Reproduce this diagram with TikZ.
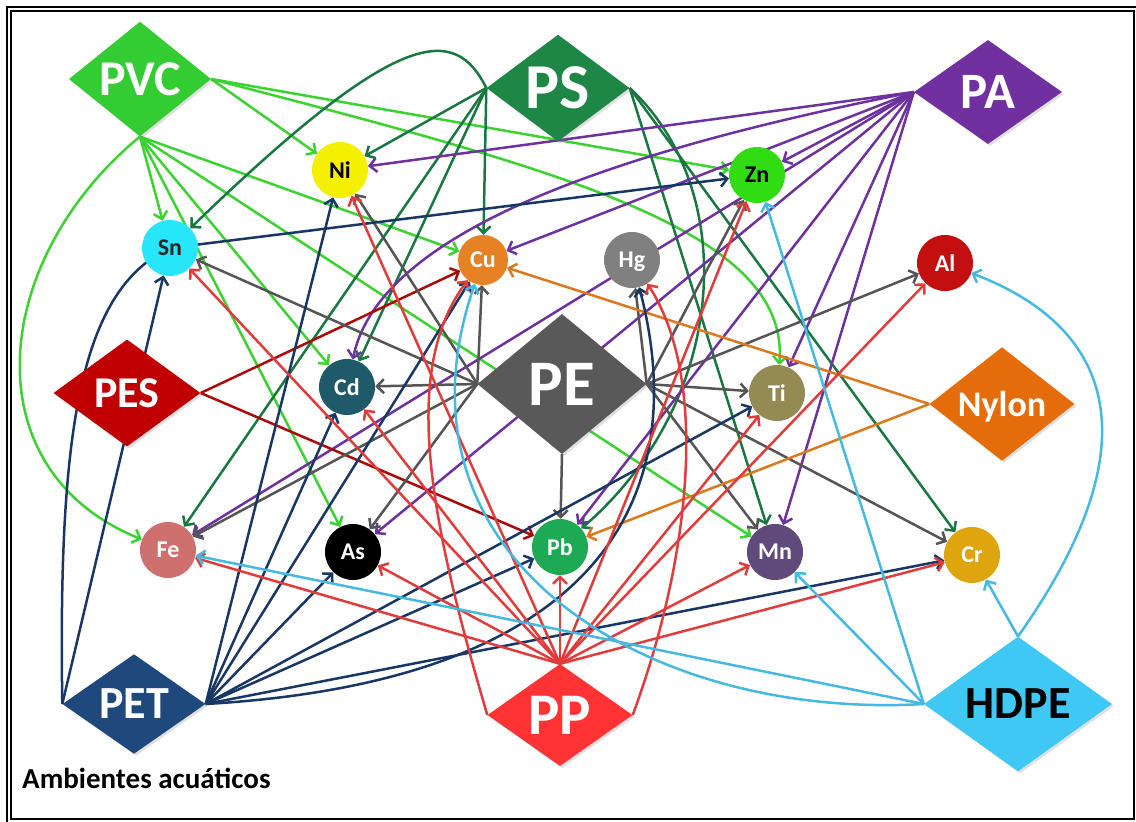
\documentclass[tikz,border=0pt]{standalone}
\usepackage{fontspec}
\setmainfont{Carlito}
\usetikzlibrary{shapes.geometric,arrows.meta,shadows}
\definecolor{fPVC}{RGB}{51,204,51}
\definecolor{fPS}{RGB}{30,135,70}
\definecolor{fPA}{RGB}{112,48,160}
\definecolor{fPES}{RGB}{192,0,0}
\definecolor{fPE}{RGB}{89,89,89}
\definecolor{fNy}{RGB}{228,108,10}
\definecolor{fPET}{RGB}{31,73,125}
\definecolor{fPP}{RGB}{255,51,51}
\definecolor{fHD}{RGB}{64,200,245}
\definecolor{lPVC}{RGB}{60,210,50}
\definecolor{lPS}{RGB}{25,120,65}
\definecolor{lPA}{RGB}{110,50,160}
\definecolor{lPES}{RGB}{170,10,10}
\definecolor{lPE}{RGB}{85,85,85}
\definecolor{lNy}{RGB}{220,120,30}
\definecolor{lPET}{RGB}{25,55,100}
\definecolor{lPP}{RGB}{225,60,60}
\definecolor{lHD}{RGB}{70,185,225}
\definecolor{cNi}{RGB}{245,240,0}
\definecolor{cZn}{RGB}{50,220,20}
\definecolor{cSn}{RGB}{40,230,250}
\definecolor{cCu}{RGB}{230,130,35}
\definecolor{cHg}{RGB}{128,128,128}
\definecolor{cAl}{RGB}{195,15,15}
\definecolor{cCd}{RGB}{30,90,105}
\definecolor{cTi}{RGB}{148,138,84}
\definecolor{cFe}{RGB}{205,112,110}
\definecolor{cAs}{RGB}{0,0,0}
\definecolor{cPb}{RGB}{30,170,85}
\definecolor{cMn}{RGB}{96,74,123}
\definecolor{cCr}{RGB}{222,165,15}
\pgfdeclarelayer{bg}
\pgfsetlayers{bg,main}
\begin{document}
\begin{tikzpicture}[x=1pt,y=-1pt,
  dia/.style={diamond, inner sep=0pt, text=white,
    drop shadow={shadow xshift=2pt,shadow yshift=-2pt,opacity=.25}},
  el/.style={circle, inner sep=0pt, minimum size=56pt, text=white, text depth=0pt,
    font=\fontsize{24}{24}\selectfont\bfseries},
  e/.style={line width=2.5pt, -{Straight Barb[length=7pt,width=14pt]}},
  ePVC/.style={e, draw=lPVC}, ePS/.style={e, draw=lPS}, ePA/.style={e, draw=lPA},
  ePES/.style={e, draw=lPES}, ePE/.style={e, draw=lPE}, eNy/.style={e, draw=lNy},
  ePET/.style={e, draw=lPET}, ePP/.style={e, draw=lPP}, eHD/.style={e, draw=lHD}]
\useasboundingbox (0,0) rectangle (1136,822);
\begin{pgfonlayer}{bg}
\fill[white] (0,0) rectangle (1136,822);
\end{pgfonlayer}
% frame
\draw[line width=2.2pt] (1136,7) -- (7,7) -- (7,822);
\draw[line width=1.3pt] (11,11) rectangle (1134,819);
% polymers
\node[dia, fill=fPVC, minimum width=142pt, minimum height=102pt, font=\fontsize{50}{50}\selectfont\bfseries] (PVC) at (140,79) {PVC};
\node[dia, fill=fPS, minimum width=143pt, minimum height=99pt, font=\fontsize{64}{64}\selectfont\bfseries] (PS) at (558,88) {PS};
\node[dia, fill=fPA, minimum width=148pt, minimum height=104pt, font=\fontsize{51}{51}\selectfont\bfseries] (PA) at (988,92) {PA};
\node[dia, fill=fPES, minimum width=147pt, minimum height=107pt, font=\fontsize{44}{44}\selectfont\bfseries] (PES) at (127,393) {PES};
\node[dia, fill=fPE, minimum width=169pt, minimum height=140pt, font=\fontsize{65}{65}\selectfont\bfseries] (PE) at (562,384) {PE};
\node[dia, fill=fNy, minimum width=145pt, minimum height=105pt, text depth=0pt, font=\fontsize{36}{36}\selectfont\bfseries] (Nylon) at (1002,404) {Nylon};
\node[dia, fill=fPET, minimum width=143pt, minimum height=98pt, font=\fontsize{46}{46}\selectfont\bfseries] (PET) at (134,704) {PET};
\node[dia, fill=fPP, minimum width=145pt, minimum height=102pt, font=\fontsize{59}{59}\selectfont\bfseries] (PP) at (560,715) {PP};
\node[dia, fill=fHD, text=black, minimum width=188pt, minimum height=108pt, font=\fontsize{46}{46}\selectfont\bfseries] (HDPE) at (1018,704) {HDPE};
% elements
\node[el, fill=cNi, text=black] (Ni) at (340,170) {Ni};
\node[el, fill=cZn, text=black] (Zn) at (757,175) {Zn};
\node[el, fill=cSn, text=black!85] (Sn) at (170,248) {Sn};
\node[el, fill=cCu, minimum size=50pt] (Cu) at (483,260) {Cu};
\node[el, fill=cHg] (Hg) at (632,260) {Hg};
\node[el, fill=cAl] (Al) at (945,263) {Al};
\node[el, fill=cCd] (Cd) at (347,387) {Cd};
\node[el, fill=cTi] (Ti) at (777,393) {Ti};
\node[el, fill=cFe] (Fe) at (168,550) {Fe};
\node[el, fill=cAs] (As) at (353,552) {As};
\node[el, fill=cPb] (Pb) at (560,547) {Pb};
\node[el, fill=cMn] (Mn) at (775,552) {Mn};
\node[el, fill=cCr] (Cr) at (972,555) {Cr};
\node[anchor=base west, font=\fontsize{29}{29}\selectfont\bfseries, inner sep=0pt] (title) at (22,788) {Ambientes acuáticos};
\begin{pgfonlayer}{bg}
% PVC
\draw[ePVC] (PVC.east) -- (Ni);
\draw[ePVC] (PVC.east) -- (Zn);
\draw[ePVC] (PVC.east) .. controls (560,170) and (790,230) .. (Ti);
\foreach \tg in {Sn,Cu,Cd,As,Mn} \draw[ePVC] (PVC.south) -- (\tg);
\draw[ePVC] (PVC.south) .. controls (-10,260) and (-30,470) .. (Fe);
% PS
\foreach \tg in {Ni,Cu,Cd,Fe} \draw[ePS] (PS.west) -- (\tg);
\draw[ePS] (PS.west) .. controls (455,25) and (400,25) .. (Sn);
\draw[ePS] (PS.east) -- (Mn);
\draw[ePS] (PS.east) -- (Cr);
\draw[ePS] (PS.east) .. controls (740,190) and (730,400) .. (Pb);
% PA
\foreach \tg in {Ni,Zn,Cu,Fe,As,Pb,Ti,Mn} \draw[ePA] (PA.west) -- (\tg);
\draw[ePA] (PA.west) .. controls (620,150) and (380,230) .. (Cd);
% PES
\draw[ePES] (PES.east) -- (Cu);
\draw[ePES] (PES.east) -- (Pb);
% PE
\foreach \tg in {Cd,Cu,Sn,Ni,Fe,As} \draw[ePE] (PE.west) -- (\tg);
\foreach \tg in {Ti,Hg,Al,Zn,Mn,Cr} \draw[ePE] (PE.east) -- (\tg);
\draw[ePE] (PE.south) -- (Pb);
% Nylon
\draw[eNy] (Nylon.west) -- (Cu);
\draw[eNy] (Nylon.west) -- (Pb);
% PET
\draw[ePET] (PET.west) .. controls (58,430) and (80,290) .. (Sn.center) -- (Zn);
\draw[ePET] (PET.west) -- (Sn);
\foreach \tg in {Ni,Cd,Cu,As,Pb,Ti,Cr} \draw[ePET] (PET.east) -- (\tg);
\draw[ePET] (PET.east) .. controls (620,680) and (690,480) .. (Hg);
% PP
\foreach \tg in {Fe,As,Sn,Ni,Cd,Pb,Zn,Al,Ti,Mn,Cr} \draw[ePP] (PP.north) -- (\tg);
\draw[ePP] (PP.west) .. controls (430,520) and (400,370) .. (Cu);
\draw[ePP] (PP.east) .. controls (690,560) and (710,380) .. (Hg);
% HDPE
\foreach \tg in {Fe,Mn,Zn} \draw[eHD] (HDPE.west) -- (\tg);
\draw[eHD] (HDPE.west) .. controls (650,720) and (380,560) .. (Cu);
\draw[eHD] (HDPE.north) -- (Cr);
\draw[eHD] (HDPE.north) .. controls (1150,450) and (1120,330) .. (Al);
\end{pgfonlayer}
\end{tikzpicture}
\end{document}
